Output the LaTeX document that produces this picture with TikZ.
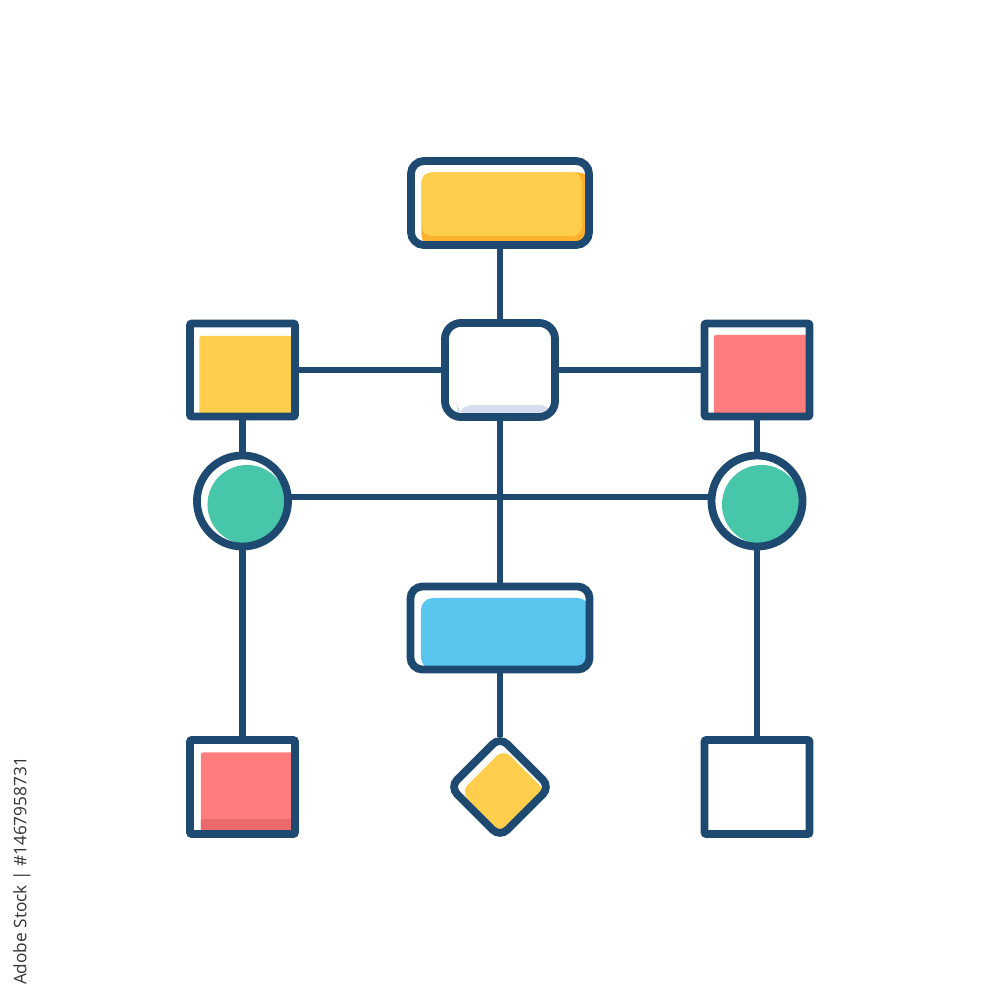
\documentclass[tikz,border=0pt]{standalone}
\usepackage{fontspec}
\newfontfamily\idfont{Open Sans}
\usetikzlibrary{calc,shapes.geometric}
\definecolor{navy}{HTML}{1E4A72}
\definecolor{cyellow}{HTML}{FFCE4C}
\definecolor{corange}{HTML}{FDB12E}
\definecolor{cred}{HTML}{FF7D7D}
\definecolor{cdarkred}{HTML}{EA6A6D}
\definecolor{cteal}{HTML}{48C6A9}
\definecolor{cblue}{HTML}{5AC5EE}
\definecolor{clav}{HTML}{D7DDEF}
\definecolor{idgray}{HTML}{333333}
\begin{document}
\begin{tikzpicture}[x=0.01cm,y=-0.01cm,
  shapebox/.style={draw=navy, line width=0.078cm, fill=white, inner sep=0pt, outer sep=0pt},
  link/.style={draw=navy, line width=0.066cm}]
\useasboundingbox (0,0) rectangle (1000,1000);
% top yellow box
\node[shapebox, rounded corners=0.13cm, minimum width=1.78cm, minimum height=0.84cm,
  path picture={
    \fill[corange, rounded corners=0.1cm] ($(path picture bounding box.north west)+(10.5,11.5)$) rectangle (path picture bounding box.south east);
    \fill[cyellow, rounded corners=0.1cm] ($(path picture bounding box.north west)+(10.5,11.5)$) rectangle ($(path picture bounding box.south east)+(-7,-9)$);
  }] (top) at (500,203) {};
% central white box
\node[shapebox, rounded corners=0.16cm, minimum width=1.10cm, minimum height=0.94cm,
  path picture={
    \fill[clav] ($(path picture bounding box.south west)+(12,-12)$) rectangle (path picture bounding box.south east);
  }] (mid) at (500,370) {};
% left yellow square
\node[shapebox, rounded corners=0.02cm, minimum width=1.05cm, minimum height=0.93cm,
  path picture={
    \fill[cyellow] ($(path picture bounding box.north west)+(9.5,12.5)$) rectangle (path picture bounding box.south east);
  }] (ls) at (242.5,370) {};
% right red square
\node[shapebox, rounded corners=0.02cm, minimum width=1.05cm, minimum height=0.93cm,
  path picture={
    \fill[cred] ($(path picture bounding box.north west)+(9.5,11.5)$) rectangle (path picture bounding box.south east);
  }] (rs) at (757,370) {};
% circles
\node[shapebox, circle, minimum size=0.91cm,
  path picture={
    \fill[cteal] ($(path picture bounding box.center)+(4.5,3.5)$) circle[radius=0.395cm];
  }] (lc) at (242.5,501) {};
\node[shapebox, circle, minimum size=0.91cm,
  path picture={
    \fill[cteal] ($(path picture bounding box.center)+(4.5,3.5)$) circle[radius=0.395cm];
  }] (rc) at (757,501) {};
% blue box
\node[shapebox, rounded corners=0.12cm, minimum width=1.79cm, minimum height=0.83cm,
  path picture={
    \fill[cblue] ($(path picture bounding box.north west)+(10.5,11.5)$) rectangle (path picture bounding box.south east);
  }] (blue) at (500,628) {};
% diamond
\node[shapebox, diamond, aspect=1, rounded corners=0.1cm, minimum width=1.0cm, minimum height=1.0cm,
  path picture={
    \fill[cyellow] ($(path picture bounding box.center)+(3.5,5)$) +(0,-43) -- +(43,0) -- +(0,43) -- +(-43,0) -- cycle;
  }] (dia) at (500,787) {};
% bottom left red square
\node[shapebox, rounded corners=0.02cm, minimum width=1.05cm, minimum height=0.94cm,
  path picture={
    \fill[cred] ($(path picture bounding box.north west)+(11,12.5)$) rectangle (path picture bounding box.south east);
    \fill[cdarkred] ($(path picture bounding box.south west)+(11,-15)$) rectangle (path picture bounding box.south east);
  }] (bl) at (242.5,787) {};
% bottom right white square
\node[shapebox, rounded corners=0.02cm, minimum width=1.05cm, minimum height=0.94cm] (br) at (757,787) {};
% connectors
\draw[link] (top.south) -- (mid.north);
\draw[link] (ls.east) -- (mid.west);
\draw[link] (mid.east) -- (rs.west);
\draw[link] (ls.south) -- (lc.north);
\draw[link] (rs.south) -- (rc.north);
\draw[link] ([yshift=0.04cm]lc.east) -- ([yshift=0.04cm]rc.west);
\draw[link] (mid.south) -- (blue.north);
\draw[link] (blue.south) -- (dia.north);
\draw[link] (lc.south) -- (bl.north);
\draw[link] (rc.south) -- (br.north);
% vertical id text
\node[rotate=90, text=idgray, inner sep=0pt, font=\idfont\fontsize{4.9}{5}\selectfont] (idtext) at (22,871) {Adobe Stock | \#1467958731};
\end{tikzpicture}
\end{document}
